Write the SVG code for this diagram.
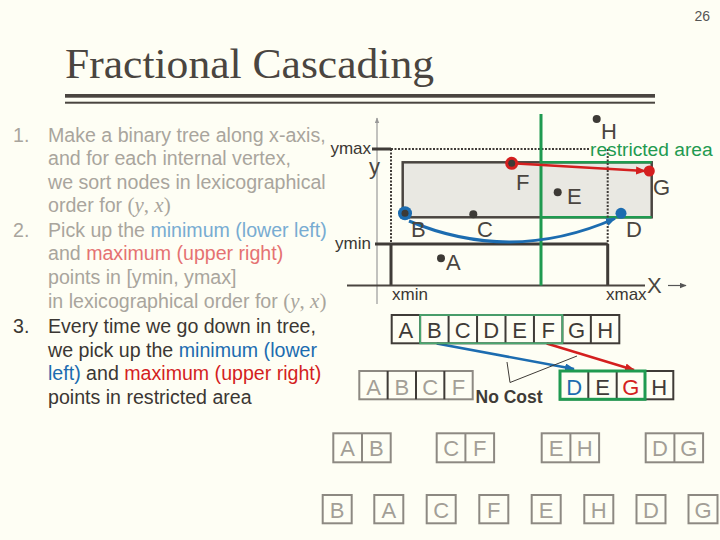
<svg xmlns="http://www.w3.org/2000/svg" width="720" height="540" viewBox="0 0 720 540">
<defs>
<style>
.t{font-family:"Liberation Sans",Arial,sans-serif}
.list{font-family:"Liberation Sans",Arial,sans-serif;font-size:19.6px}
.g1{fill:#a9a59d}
.bl1{fill:#78acd2}
.rd1{fill:#e57272}
.dk{fill:#3b3733}
.bl{fill:#1c6cb0}
.rd{fill:#d41f1f}
.math{font-family:"Liberation Serif","Times New Roman",serif;font-size:21px}
.it{font-style:italic}
.lab{font-family:"Liberation Sans",Arial,sans-serif;font-size:22px;fill:#4a4540}
.ax{font-family:"Liberation Sans",Arial,sans-serif;font-size:17px;fill:#3b3733}
.box{fill:none;stroke:#3f3b37;stroke-width:2}
.gbox{fill:none;stroke:#8d8982;stroke-width:2}
.bt{font-family:"Liberation Sans",Arial,sans-serif;font-size:22px;text-anchor:middle;fill:#3f3b37}
.gt{font-family:"Liberation Sans",Arial,sans-serif;font-size:22px;text-anchor:middle;fill:#a39f97}
.dot{fill:#3d3a36}
.dline{stroke:#3f3b37;fill:none}
</style>
<marker id="mb" viewBox="0 0 10 8" markerWidth="10" markerHeight="8" refX="9" refY="4" orient="auto" markerUnits="userSpaceOnUse"><path d="M0,0 L10,4 L0,8 z" fill="#1c6cb0"/></marker>
<marker id="mr" viewBox="0 0 10 8" markerWidth="10" markerHeight="8" refX="9" refY="4" orient="auto" markerUnits="userSpaceOnUse"><path d="M0,0 L10,4 L0,8 z" fill="#d41f1f"/></marker>
<marker id="md" viewBox="0 0 10 8" markerWidth="7" markerHeight="6" refX="9" refY="4" orient="auto" markerUnits="userSpaceOnUse"><path d="M0,0 L10,4 L0,8 z" fill="#555"/></marker>
<marker id="mg" viewBox="0 0 10 8" markerWidth="6" markerHeight="5" refX="9" refY="4" orient="auto" markerUnits="userSpaceOnUse"><path d="M0,0 L10,4 L0,8 z" fill="#999"/></marker>
</defs>
<rect width="720" height="540" fill="#fefef4"/>

<g id="header">
<text x="710" y="21" class="t" font-size="14" fill="#555" text-anchor="end">26</text>
<text x="65" y="78" font-family="'Liberation Serif','Times New Roman',serif" font-size="42" fill="#4a4540" textLength="369" lengthAdjust="spacingAndGlyphs">Fractional Cascading</text>
<rect x="65" y="94" width="590" height="3.7" fill="#4a4540"/>
<rect x="65" y="101.7" width="590" height="2" fill="#4a4540"/>
</g>

<g id="list" class="list">
<text x="13" y="141.5" class="g1">1.</text>
<text x="48" y="141.5" class="g1">Make a binary tree along x-axis,</text>
<text x="48" y="165" class="g1">and for each internal vertex,</text>
<text x="48" y="188.5" class="g1">we sort nodes in lexicographical</text>
<text x="48" y="212" class="g1">order for <tspan class="math">(<tspan class="it">y</tspan>, <tspan class="it">x</tspan>)</tspan></text>
<text x="13" y="236.5" class="g1">2.</text>
<text x="48" y="236.5" class="g1">Pick up the <tspan class="bl1">minimum (lower left)</tspan></text>
<text x="48" y="260" class="g1">and <tspan class="rd1">maximum (upper right)</tspan></text>
<text x="48" y="284" class="g1">points in [ymin, ymax]</text>
<text x="48" y="307.5" class="g1">in lexicographical order for <tspan class="math">(<tspan class="it">y</tspan>, <tspan class="it">x</tspan>)</tspan></text>
<text x="13" y="333" class="dk">3.</text>
<text x="48" y="333" class="dk">Every time we go down in tree,</text>
<text x="48" y="356.5" class="dk">we pick up the <tspan class="bl">minimum (lower</tspan></text>
<text x="48" y="380" class="dk"><tspan class="bl">left)</tspan> and <tspan class="rd">maximum (upper right)</tspan></text>
<text x="48" y="403.5" class="dk">points in restricted area</text>
</g>

<g id="plot">
<line x1="377" y1="304" x2="377" y2="118" stroke="#999" stroke-width="1.2" marker-end="url(#mg)"/>
<rect x="402.7" y="162.3" width="249" height="55" fill="#e9e8e2" stroke="#4a4540" stroke-width="2.5"/>
<line x1="541" y1="162.3" x2="651.7" y2="162.3" stroke="#1f9a50" stroke-width="2.5"/>
<line x1="541" y1="217.3" x2="651.7" y2="217.3" stroke="#1f9a50" stroke-width="2.5"/>
<line x1="372" y1="149" x2="391" y2="149" stroke="#3f3b37" stroke-width="3"/>
<line x1="391" y1="149" x2="590" y2="149" stroke="#3f3b37" stroke-width="2" stroke-dasharray="2 1.5"/>
<line x1="391" y1="149" x2="391" y2="244" stroke="#3f3b37" stroke-width="2" stroke-dasharray="2 1.5"/>
<line x1="607.7" y1="149" x2="607.7" y2="244" stroke="#3f3b37" stroke-width="2" stroke-dasharray="2 1.5"/>
<line x1="375" y1="244" x2="607.7" y2="244" stroke="#3f3b37" stroke-width="3"/>
<line x1="391" y1="244" x2="391" y2="285.5" stroke="#3f3b37" stroke-width="3"/>
<line x1="607.7" y1="244" x2="607.7" y2="285.5" stroke="#3f3b37" stroke-width="3"/>
<line x1="347" y1="285.5" x2="645" y2="285.5" stroke="#4a4540" stroke-width="2"/>
<line x1="541" y1="114" x2="541" y2="285.5" stroke="#1f9a50" stroke-width="3"/>
<line x1="668" y1="285.5" x2="686" y2="285.5" stroke="#555" stroke-width="1.2" marker-end="url(#md)"/>
<text x="371" y="153.5" class="ax" text-anchor="end">ymax</text>
<text x="371" y="249" class="ax" text-anchor="end">ymin</text>
<text x="369" y="174" class="lab" font-size="21">y</text>
<text x="392" y="300" class="ax">xmin</text>
<text x="606" y="300" class="ax">xmax</text>
<text x="647" y="293" class="lab" font-size="20">X</text>
<text x="590" y="156" class="t" font-size="19.2" fill="#1f9a50">restricted area</text>
</g>

<g id="connectors">
<path d="M409 221 Q512 264 615 218.5" fill="none" stroke="#1c6cb0" stroke-width="3" marker-end="url(#mb)"/>
<line x1="512" y1="163.3" x2="645" y2="171" stroke="#d41f1f" stroke-width="2.5" marker-end="url(#mr)"/>
<line x1="436.7" y1="343.5" x2="574" y2="369" stroke="#1c6cb0" stroke-width="2.5" marker-end="url(#mb)"/>
<line x1="546.7" y1="343.5" x2="634" y2="370" stroke="#d41f1f" stroke-width="2.5" marker-end="url(#mr)"/>
<polyline points="507,362 510,382.5 577,356" fill="none" stroke="#3f3b37" stroke-width="1"/>
</g>

<g id="pA"><circle cx="441" cy="258.3" r="4" class="dot"/><text x="446" y="270" class="lab">A</text></g>
<g id="pB"><circle cx="405" cy="213.3" r="7" fill="#1c6cb0"/><circle cx="405" cy="213.3" r="3.5" class="dot"/><text x="411" y="237" class="lab">B</text></g>
<g id="pC"><circle cx="473.3" cy="214.3" r="4" class="dot"/><text x="477" y="237" class="lab">C</text></g>
<g id="pD"><circle cx="621" cy="213.3" r="5.5" fill="#1c6cb0"/><text x="626" y="237" class="lab">D</text></g>
<g id="pE"><circle cx="557.7" cy="192.3" r="4" class="dot"/><text x="567" y="204" class="lab">E</text></g>
<g id="pF"><circle cx="511.7" cy="163.3" r="6.5" fill="#d41f1f"/><circle cx="511.7" cy="163.3" r="3.5" class="dot"/><text x="516" y="190" class="lab">F</text></g>
<g id="pG"><circle cx="649.3" cy="171" r="5.5" fill="#d41f1f"/><text x="653" y="195" class="lab">G</text></g>
<g id="pH"><circle cx="596.7" cy="119" r="4" class="dot"/><text x="601" y="139" class="lab">H</text></g>

<g id="arr-root">
<rect x="391.7" y="315" width="227.6" height="28.3" class="box"/>
<path d="M420.15 315v28.3M448.6 315v28.3M477.05 315v28.3M505.5 315v28.3M533.95 315v28.3M562.4 315v28.3M590.85 315v28.3" class="dline" stroke-width="2"/>
<rect x="420.15" y="315" width="142.25" height="28.3" fill="none" stroke="#4aa870" stroke-width="1.8"/>
<text class="bt" y="338"><tspan x="405.9">A</tspan><tspan x="434.4">B</tspan><tspan x="462.8">C</tspan><tspan x="491.3">D</tspan><tspan x="519.7">E</tspan><tspan x="548.2">F</tspan><tspan x="576.6">G</tspan><tspan x="605.1">H</tspan></text>
</g>

<g id="arr-left">
<rect x="359.3" y="371" width="113.4" height="28.3" class="gbox"/>
<path d="M387.65 371v28.3M416 371v28.3M444.35 371v28.3" class="dline" stroke="#8d8982" stroke-width="2"/>
<text class="gt" y="394.5"><tspan x="373.5">A</tspan><tspan x="401.8">B</tspan><tspan x="430.2">C</tspan><tspan x="458.5">F</tspan></text>
<text x="475.5" y="403" class="t" font-size="17.5" font-weight="bold" fill="#3f3b37">No Cost</text>
</g>

<g id="arr-right">
<rect x="560" y="371" width="113.3" height="28.3" class="box"/>
<path d="M588.3 371v28.3M616.7 371v28.3" class="dline" stroke-width="2"/>
<rect x="560" y="371" width="85" height="28.3" fill="none" stroke="#1f9a50" stroke-width="3"/>
<text class="bt" y="394.5"><tspan x="574.2" fill="#1c6cb0">D</tspan><tspan x="602.5">E</tspan><tspan x="630.8" fill="#d41f1f">G</tspan><tspan x="659.2">H</tspan></text>
</g>

<g id="level3">
<rect x="333.3" y="433.3" width="57.4" height="29" class="gbox"/><line x1="362" y1="433.3" x2="362" y2="462.3" stroke="#8d8982" stroke-width="2"/>
<rect x="436.7" y="433.3" width="57.4" height="29" class="gbox"/><line x1="465.4" y1="433.3" x2="465.4" y2="462.3" stroke="#8d8982" stroke-width="2"/>
<rect x="541.7" y="433.3" width="57.4" height="29" class="gbox"/><line x1="570.4" y1="433.3" x2="570.4" y2="462.3" stroke="#8d8982" stroke-width="2"/>
<rect x="645.7" y="433.3" width="57.4" height="29" class="gbox"/><line x1="674.4" y1="433.3" x2="674.4" y2="462.3" stroke="#8d8982" stroke-width="2"/>
<text class="gt" y="456"><tspan x="347.7">A</tspan><tspan x="376.4">B</tspan><tspan x="451.1">C</tspan><tspan x="479.8">F</tspan><tspan x="556">E</tspan><tspan x="584.7">H</tspan><tspan x="660">D</tspan><tspan x="688.7">G</tspan></text>
</g>

<g id="leaves">
<rect x="322.7" y="495" width="29" height="28.3" class="gbox"/>
<rect x="374.3" y="495" width="29" height="28.3" class="gbox"/>
<rect x="426.7" y="495" width="29" height="28.3" class="gbox"/>
<rect x="479.3" y="495" width="29" height="28.3" class="gbox"/>
<rect x="531.7" y="495" width="29" height="28.3" class="gbox"/>
<rect x="584.3" y="495" width="29" height="28.3" class="gbox"/>
<rect x="636.5" y="495" width="29" height="28.3" class="gbox"/>
<rect x="688.5" y="495" width="29" height="28.3" class="gbox"/>
<text class="gt" y="518"><tspan x="337.2">B</tspan><tspan x="388.8">A</tspan><tspan x="441.2">C</tspan><tspan x="493.8">F</tspan><tspan x="546.2">E</tspan><tspan x="598.8">H</tspan><tspan x="651">D</tspan><tspan x="703">G</tspan></text>
</g>
</svg>
